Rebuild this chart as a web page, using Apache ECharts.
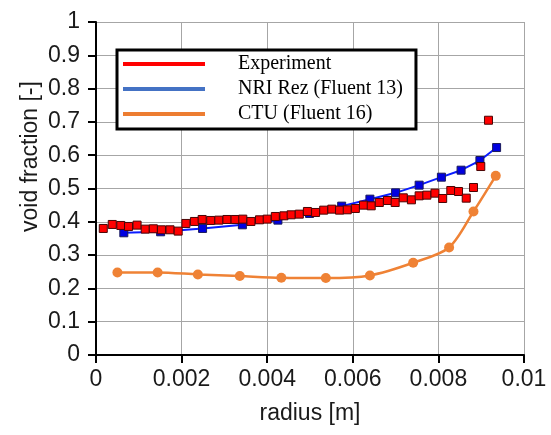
<!DOCTYPE html>
<html>
<head>
<meta charset="utf-8">
<script src="https://cdn.jsdelivr.net/npm/echarts@6/dist/echarts.min.js"></script>
<style>
html,body{margin:0;padding:0;background:#fff;}
#chart{width:551px;height:435px;}
</style>
</head>
<body>
<div id="chart"></div>
<script>
// Experiment (red squares)
var expX = [0.00017,0.00038,0.00058,0.00076,0.00096,0.00115,0.00134,0.00153,0.00173,0.00192,
            0.00210,0.00230,0.00248,0.00268,0.00287,0.00306,0.00325,0.00343,0.00362,0.00382,
            0.00400,0.00419,0.00439,0.00456,0.00475,0.00494,0.00513,0.00532,0.00551,0.00569,
            0.00587,0.00606,0.00625,0.00643,0.00662,0.00681,0.00699,0.00718,0.00737,0.00755,
            0.00773,0.00792,0.00810,0.00829,0.00847,0.00865,0.00882,0.00899,0.00917];
var expY = [0.380,0.392,0.389,0.386,0.390,0.378,0.379,0.376,0.376,0.372,
            0.395,0.401,0.407,0.404,0.405,0.407,0.407,0.408,0.401,0.406,
            0.408,0.416,0.418,0.421,0.423,0.431,0.428,0.435,0.438,0.435,
            0.436,0.440,0.450,0.448,0.458,0.464,0.458,0.472,0.466,0.478,
            0.480,0.486,0.470,0.494,0.491,0.471,0.503,0.566,0.705];
// NRI Rez (Fluent 13)
var nriX = [0.00065,0.00151,0.00249,0.00342,0.00425,0.00499,0.00574,0.00640,0.00700,0.00755,0.00807,0.00853,0.00897,0.00936];
var nriY = [0.367,0.370,0.380,0.391,0.405,0.425,0.447,0.468,0.487,0.510,0.534,0.555,0.584,0.623];
// CTU (Fluent 16)
var ctuX = [0.00050,0.00144,0.00238,0.00336,0.00433,0.00537,0.00640,0.00741,0.00825,0.00882,0.00934];
var ctuY = [0.248,0.248,0.242,0.237,0.232,0.231,0.239,0.277,0.323,0.431,0.538];

var seriesNames = ['Experiment','NRI Rez (Fluent 13)','CTU (Fluent 16)'];
var legendColors = ['#ff0000','#4472c4','#ed7d31'];

function pairs(xs, ys){ return xs.map(function(x,i){ return [x, ys[i]]; }); }

var sans = 'Liberation Sans, Arial, sans-serif';
var chart = echarts.init(document.getElementById('chart'), null, {renderer:'canvas'});
chart.setOption({
  animation:false,
  backgroundColor:'#ffffff',
  grid:{left:96,right:27,top:22,bottom:80},
  legend:{
    left:117, top:50,
    orient:'vertical',
    padding:[4,13,5,6],
    itemGap:5,
    itemWidth:82, itemHeight:4,
    borderColor:'#000', borderWidth:3,
    backgroundColor:'#fff',
    textStyle:{fontFamily:'Liberation Serif, Times New Roman, serif',fontSize:20,color:'#000',padding:[0,0,0,28]},
    data:seriesNames.map(function(n,i){ return {name:n, icon:'rect', itemStyle:{color:legendColors[i], borderWidth:0, opacity:1}}; })
  },
  xAxis:{
    type:'value', min:0, max:0.01, interval:0.002,
    name:'radius [m]', nameLocation:'middle', nameGap:47,
    nameTextStyle:{fontFamily:sans,fontSize:23,color:'#1a1a1a'},
    axisLine:{onZero:false,lineStyle:{color:'#000',width:2}},
    axisTick:{show:true,length:8,inside:false,lineStyle:{color:'#000',width:2}},
    axisLabel:{margin:13,fontFamily:sans,fontSize:23,color:'#1a1a1a',
      formatter:function(v){ return String(+v.toFixed(3)); }},
    splitLine:{show:true,lineStyle:{color:'#a6a6a6',width:1}}
  },
  yAxis:{
    type:'value', min:0, max:1, interval:0.1,
    name:'void fraction [-]', nameLocation:'middle', nameGap:54, nameRotate:90,
    nameMoveOverlap:false,
    nameTextStyle:{fontFamily:sans,fontSize:23,color:'#1a1a1a',padding:[0,0,0,64]},
    axisLine:{onZero:false,lineStyle:{color:'#000',width:2}},
    axisTick:{show:true,length:8,inside:false,lineStyle:{color:'#000',width:2}},
    axisLabel:{margin:16,fontFamily:sans,fontSize:23,color:'#1a1a1a',
      formatter:function(v){ return String(+v.toFixed(1)); }},
    splitLine:{show:true,lineStyle:{color:'#a6a6a6',width:1}}
  },
  series:[
    {
      name:seriesNames[0], type:'scatter', z:4,
      symbol:'rect', symbolSize:8,
      itemStyle:{color:'#ff0000',borderColor:'#4a0505',borderWidth:1,opacity:1},
      data:pairs(expX, expY)
    },
    {
      name:seriesNames[1], type:'line', z:3,
      symbol:'rect', symbolSize:8, showAllSymbol:true,
      lineStyle:{color:'#0a1cff',width:2},
      itemStyle:{color:'#0000e0',borderColor:'#1a1a5a',borderWidth:1,opacity:1},
      data:pairs(nriX, nriY)
    },
    {
      name:seriesNames[2], type:'line', z:2, smooth:0.3,
      symbol:'circle', symbolSize:10, showAllSymbol:true,
      lineStyle:{color:'#ef8235',width:2.5},
      itemStyle:{color:'#ef8235',borderWidth:0,opacity:1},
      data:pairs(ctuX, ctuY)
    }
  ]
});
</script>
</body>
</html>
